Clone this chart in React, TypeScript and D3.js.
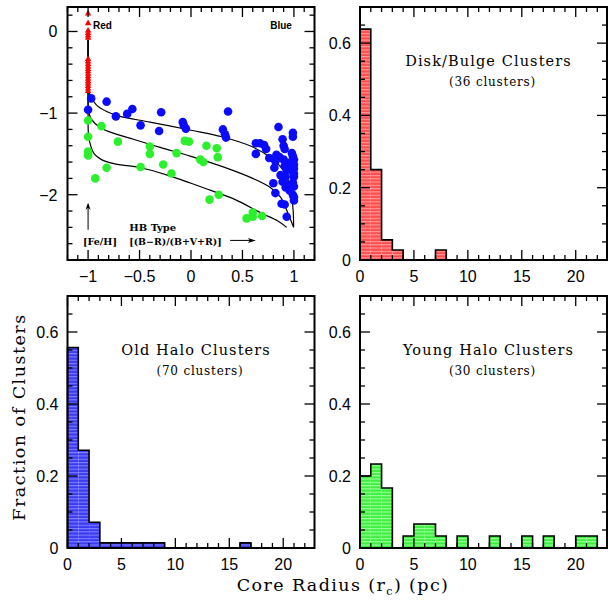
import React from "react";
import * as d3 from "d3";

// ---------- DATA ----------
// Histograms: counts per 1-pc bin of core radius, starting at 0 pc
const diskBulgeCounts = [23, 9, 2, 1, 0, 0, 0, 1];
const diskBulgeTotal = 36;
const oldHaloCounts = [39, 19, 5, 1, 1, 1, 1, 1, 1, 0, 0, 0, 0, 0, 0, 0, 1];
const oldHaloTotal = 70;
const youngHaloCounts = [6, 7, 5, 0, 1, 2, 2, 1, 0, 1, 0, 0, 1, 0, 0, 1, 0, 1, 0, 0, 1, 1];
const youngHaloTotal = 30;

const histXTicks = [0, 5, 10, 15, 20];
const histYTicks = [0, 0.2, 0.4, 0.6];

// Scatter: [HB type, [Fe/H]]
const redFeH = [0.22, 0.1, 0.01, -0.02, -0.05, -0.08, -0.34, -0.37, -0.4, -0.43, -0.46, -0.49, -0.52, -0.55, -0.58, -0.61, -0.64, -0.67, -0.7, -0.73];
const redHB = -1;

const bluePoints: [number, number][] = [
  [-0.97, -0.82], [-1.0, -0.96], [-0.82, -0.86], [-0.73, -1.04], [-0.62, -1.01], [-0.57, -0.95],
  [-0.49, -1.15], [-0.29, -0.99], [-0.31, -1.22], [-0.08, -1.11], [-0.07, -1.15], [-0.05, -1.19],
  [0.36, -0.98], [0.31, -1.2], [0.33, -1.26], [0.34, -1.3], [0.63, -1.37], [0.67, -1.37],
  [0.71, -1.39], [0.73, -1.44], [0.63, -1.5], [0.76, -1.55], [0.85, -1.17], [0.89, -1.32],
  [0.9, -1.4], [0.91, -1.44], [0.99, -1.24], [0.99, -1.29], [0.98, -1.49], [0.99, -1.53],
  [1.0, -1.57], [0.98, -1.6], [0.83, -1.51], [0.86, -1.54], [0.9, -1.57], [0.81, -1.67],
  [0.91, -1.65], [0.94, -1.67], [1.0, -1.63], [0.82, -1.59], [0.95, -1.61], [0.93, -1.69],
  [0.98, -1.71], [0.87, -1.76], [0.92, -1.78], [1.0, -1.78], [0.8, -1.86], [0.89, -1.84],
  [0.93, -1.88], [0.99, -1.85], [1.0, -1.9], [0.92, -1.91], [0.82, -1.98], [0.99, -2.0],
  [1.0, -2.03], [0.88, -2.11], [0.91, -2.12], [1.0, -2.07], [0.93, -2.27], [1.0, -1.68],
  [1.0, -1.74], [0.96, -1.95],
];

const greenPoints: [number, number][] = [
  [-1.0, -1.09], [-1.0, -1.29], [-1.0, -1.47], [-1.0, -1.5], [-1.0, -1.52], [-0.87, -1.16],
  [-0.93, -1.8], [-0.82, -1.67], [-0.71, -1.35], [-0.4, -1.41], [-0.4, -1.5], [-0.49, -1.66],
  [-0.27, -1.63], [-0.19, -1.74], [-0.14, -1.49], [-0.06, -1.34], [-0.02, -1.35], [0.15, -1.4],
  [0.09, -1.57], [0.12, -1.6], [0.25, -1.43], [0.26, -1.54], [0.18, -2.06], [0.27, -2.0],
  [0.54, -2.29], [0.6, -2.22], [0.6, -2.27], [0.69, -2.26],
];

const curveTop: [number, number][] = [
  [-1, -0.1], [-1, -0.5], [-0.995, -0.7], [-0.98, -0.78], [-0.92, -0.9], [-0.82, -0.98],
  [-0.69, -1.04], [-0.4, -1.11], [0, -1.21], [0.3, -1.29], [0.59, -1.41], [0.78, -1.55],
  [0.88, -1.67], [0.94, -1.81], [0.975, -2.0], [0.993, -2.2], [0.997, -2.4],
];
const curveMid: [number, number][] = [
  [-1, -0.1], [-1, -0.8], [-0.995, -0.98], [-0.97, -1.07], [-0.88, -1.18], [-0.72, -1.26],
  [-0.56, -1.32], [-0.3, -1.42], [0, -1.53], [0.36, -1.68], [0.6, -1.8], [0.78, -1.92],
  [0.87, -2.03], [0.94, -2.22], [0.997, -2.4],
];
const curveBot: [number, number][] = [
  [-1, -0.1], [-1, -1.0], [-0.995, -1.28], [-0.97, -1.42], [-0.94, -1.5], [-0.87, -1.57],
  [-0.75, -1.62], [-0.49, -1.67], [-0.23, -1.76], [0, -1.86], [0.2, -1.95], [0.43, -2.06],
  [0.69, -2.23], [0.84, -2.32], [0.93, -2.4],
];

const scatterXTicks = [-1, -0.5, 0, 0.5, 1];
const scatterYTicks = [-2, -1, 0];

// ---------- LAYOUT ----------
const W = 608;
const H = 601;
const LEFT_X = [67.5, 314.5];
const RIGHT_X = [360, 607];
const TOP_Y = [7, 260];
const BOT_Y = [296, 548];

const serif = "'DejaVu Serif', serif";
const sans = "'Liberation Sans', Arial, sans-serif";

const fmtTick = (v: number) => {
  const s = d3.format("~g")(v);
  return s.replace("-", "\u2212");
};

function Ticks({ xs, ys, x0, x1, y0, y1, xMajor, xMinor, yMajor, yMinor }: any) {
  const lines: JSX.Element[] = [];
  const isMajor = (v: number, step: number) => Math.abs(v / step - Math.round(v / step)) < 1e-6;
  xMinor.forEach((v: number, i: number) => {
    const len = isMajor(v, xMajor) ? 10 : 5;
    const px = xs(v);
    lines.push(<line key={"xb" + i} x1={px} x2={px} y1={y1} y2={y1 - len} />);
    lines.push(<line key={"xt" + i} x1={px} x2={px} y1={y0} y2={y0 + len} />);
  });
  yMinor.forEach((v: number, i: number) => {
    const len = isMajor(v, yMajor) ? 10 : 5;
    const py = ys(v);
    lines.push(<line key={"yl" + i} x1={x0} x2={x0 + len} y1={py} y2={py} />);
    lines.push(<line key={"yr" + i} x1={x1} x2={x1 - len} y1={py} y2={py} />);
  });
  return <g stroke="#000" strokeWidth={1.3}>{lines}</g>;
}

function Histogram({ xr, yr, counts, total, pat, title, sub }: any) {
  const xs = d3.scaleLinear().domain([0, 22.9]).range(xr);
  const ys = d3.scaleLinear().domain([0, 0.7]).range([yr[1], yr[0]]);
  const fr = counts.map((c: number) => c / total);
  const stepData: [number, number][] = [[0, 0]];
  fr.forEach((f: number, i: number) => stepData.push([i, f]));
  stepData.push([fr.length, 0]);
  const line = d3
    .line<[number, number]>()
    .x((d) => xs(d[0]))
    .y((d) => ys(d[1]))
    .curve(d3.curveStepAfter);
  const minorX = d3.range(0, 23, 1);
  const minorY = d3.range(0, 0.7001, 0.05);
  const cx = (xr[0] + xr[1]) / 2 + 5;
  return (
    <g>
      {fr.map((f: number, i: number) =>
        f > 0 ? (
          <rect key={i} x={xs(i)} y={ys(f)} width={xs(i + 1) - xs(i)} height={ys(0) - ys(f)} fill={`url(#${pat})`} />
        ) : null
      )}
      <path d={line(stepData) || ""} fill="none" stroke="#000" strokeWidth={1.6} />
      <Ticks xs={xs} ys={ys} x0={xr[0]} x1={xr[1]} y0={yr[0]} y1={yr[1]} xMajor={5} xMinor={minorX} yMajor={0.2} yMinor={minorY} />
      <rect x={xr[0]} y={yr[0]} width={xr[1] - xr[0]} height={yr[1] - yr[0]} fill="none" stroke="#000" strokeWidth={2} />
      {histXTicks.map((t) => (
        <text key={"xl" + t} x={xs(t)} y={yr[1] + 22} textAnchor="middle" fontFamily={sans} fontSize={16}>
          {fmtTick(t)}
        </text>
      ))}
      {histYTicks.map((t) => (
        <text key={"yl" + t} x={xr[0] - 9} y={ys(t) + 6} textAnchor="end" fontFamily={sans} fontSize={16}>
          {fmtTick(t)}
        </text>
      ))}
      <text x={cx} y={yr[0] + 59} textAnchor="middle" fontFamily={serif} fontSize={14.5} letterSpacing={1.1}>
        {title}
      </text>
      <text x={cx + 4} y={yr[0] + 79} textAnchor="middle" fontFamily={serif} fontSize={12} letterSpacing={0.8}>
        {sub}
      </text>
    </g>
  );
}

function Scatter() {
  const xr = LEFT_X;
  const yr = TOP_Y;
  const xs = d3.scaleLinear().domain([-1.2, 1.2]).range(xr);
  const ys = d3.scaleLinear().domain([-2.8, 0.3]).range([yr[1], yr[0]]);
  const line = d3
    .line<[number, number]>()
    .x((d) => xs(d[0]))
    .y((d) => ys(d[1]))
    .curve(d3.curveCatmullRom.alpha(0.5));
  const minorX = d3.range(-1.2, 1.2001, 0.1).map((v) => Math.round(v * 10) / 10);
  const minorY = d3.range(-2.8, 0.3001, 0.2).map((v) => Math.round(v * 10) / 10);
  const tri = d3.symbol().type(d3.symbolTriangle).size(18);
  return (
    <g>
      {[curveTop, curveMid, curveBot].map((c, i) => (
        <path key={i} d={line(c) || ""} fill="none" stroke="#000" strokeWidth={1.2} />
      ))}
      {bluePoints.map((p, i) => (
        <circle key={"b" + i} cx={xs(p[0])} cy={ys(p[1])} r={4.3} fill="#0a0aff" />
      ))}
      {greenPoints.map((p, i) => (
        <circle key={"g" + i} cx={xs(p[0])} cy={ys(p[1])} r={4.3} fill="#2cf02c" />
      ))}
      {redFeH.map((f, i) => (
        <path key={"r" + i} d={tri() || ""} transform={`translate(${xs(redHB)},${ys(f)})`} fill="#ff0000" />
      ))}
      <Ticks xs={xs} ys={ys} x0={xr[0]} x1={xr[1]} y0={yr[0]} y1={yr[1]} xMajor={0.5} xMinor={minorX} yMajor={1} yMinor={minorY} />
      <rect x={xr[0]} y={yr[0]} width={xr[1] - xr[0]} height={yr[1] - yr[0]} fill="none" stroke="#000" strokeWidth={2} />
      {scatterXTicks.map((t) => (
        <text key={"xl" + t} x={xs(t)} y={yr[1] + 22} textAnchor="middle" fontFamily={sans} fontSize={16}>
          {fmtTick(t)}
        </text>
      ))}
      {scatterYTicks.map((t) => (
        <text key={"yl" + t} x={xr[0] - 10} y={ys(t) + 6} textAnchor="end" fontFamily={sans} fontSize={16}>
          {fmtTick(t)}
        </text>
      ))}
      <text x={xs(-0.952)} y={ys(0.03)} fontFamily={sans} fontWeight="bold" fontSize={10}>Red</text>
      <text x={xs(0.98)} y={ys(0.03)} textAnchor="end" fontFamily={sans} fontWeight="bold" fontSize={10}>Blue</text>
      <text x={xs(-0.6)} y={ys(-2.44)} fontFamily={serif} fontWeight="bold" fontSize={10}>HB Type</text>
      <text x={xs(-1.05)} y={ys(-2.62)} fontFamily={serif} fontWeight="bold" fontSize={9.6}>[Fe/H]</text>
      <text x={xs(-0.6)} y={ys(-2.62)} fontFamily={serif} fontWeight="bold" fontSize={9.4}>[(B{"\u2212"}R)/(B+V+R)]</text>
      {/* arrows */}
      <line x1={xs(-1)} x2={xs(-1)} y1={ys(-2.43)} y2={ys(-2.12)} stroke="#000" strokeWidth={1} />
      <path d={`M${xs(-1)},${ys(-2.1)} l-2.5,7 l2.5,-2 l2.5,2 z`} fill="#000" />
      <line x1={xs(0.38)} x2={xs(0.6)} y1={ys(-2.56)} y2={ys(-2.56)} stroke="#000" strokeWidth={1} />
      <path d={`M${xs(0.63)},${ys(-2.56)} l-8,-2.5 l2,2.5 l-2,2.5 z`} fill="#000" />
    </g>
  );
}

function Pattern({ id, base, stripe }: { id: string; base: string; stripe: string }) {
  return (
    <pattern id={id} patternUnits="userSpaceOnUse" width={4} height={3.3}>
      <rect x={0} y={0} width={4} height={3.3} fill={base} />
      <rect x={0} y={0} width={4} height={1.1} fill={stripe} />
    </pattern>
  );
}

export default function App() {
  return (
    <svg width={W} height={H} style={{ position: "absolute", left: 0, top: 0, background: "#fff" }}>
      <defs>
        <Pattern id="patRed" base="#ff4d4d" stripe="#ff9a9a" />
        <Pattern id="patBlue" base="#3a3af2" stripe="#8080ff" />
        <Pattern id="patGreen" base="#3ef03e" stripe="#9cff9c" />
      </defs>
      <rect x={0} y={0} width={W} height={H} fill="#fff" />
      <Scatter />
      <Histogram xr={RIGHT_X} yr={TOP_Y} counts={diskBulgeCounts} total={diskBulgeTotal} pat="patRed" title="Disk/Bulge Clusters" sub="(36 clusters)" />
      <Histogram xr={LEFT_X} yr={BOT_Y} counts={oldHaloCounts} total={oldHaloTotal} pat="patBlue" title="Old Halo Clusters" sub="(70 clusters)" />
      <Histogram xr={RIGHT_X} yr={BOT_Y} counts={youngHaloCounts} total={youngHaloTotal} pat="patGreen" title="Young Halo Clusters" sub="(30 clusters)" />
      <text x={343} y={591} textAnchor="middle" fontFamily={serif} fontSize={17.5} letterSpacing={1.4}>
        Core Radius (r<tspan fontSize={11} dy={4}>c</tspan><tspan dy={-4}>) (pc)</tspan>
      </text>
      <text transform="translate(25,417) rotate(-90)" textAnchor="middle" fontFamily={serif} fontSize={17.5} letterSpacing={1.5}>
        Fraction of Clusters
      </text>
    </svg>
  );
}
